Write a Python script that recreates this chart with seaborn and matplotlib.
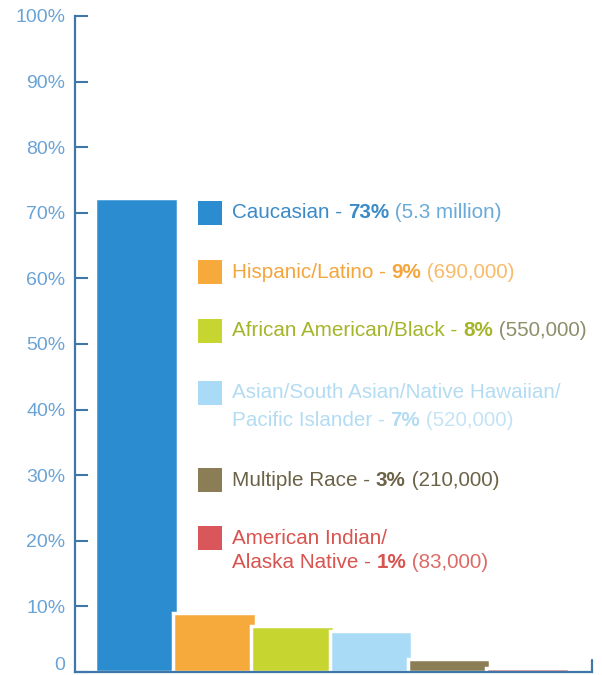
import matplotlib
matplotlib.use("Agg")
import matplotlib.pyplot as plt
import matplotlib.transforms as mtransforms
import seaborn as sns
import pandas as pd
from matplotlib.patches import Rectangle

# ---- data ----
categories = ["Caucasian", "Hispanic/Latino", "African American/Black",
              "Asian/South Asian/Native Hawaiian/Pacific Islander",
              "Multiple Race", "American Indian/Alaska Native"]
bar_values = [72.3, 9.0, 7.0, 6.3, 2.0, 0.6]
legend_names = ["Caucasian - ", "Hispanic/Latino - ", "African American/Black - ",
                "Asian/South Asian/Native Hawaiian/\nPacific Islander - ",
                "Multiple Race - ", "American Indian/\nAlaska Native - "]
legend_pcts = ["73%", "9%", "8%", "7%", "3%", "1%"]
legend_counts = [" (5.3 million)", " (690,000)", " (550,000)", " (520,000)",
                 " (210,000)", " (83,000)"]
ytick_vals = [0, 10, 20, 30, 40, 50, 60, 70, 80, 90, 100]
ytick_labels = ["0", "10%", "20%", "30%", "40%", "50%", "60%", "70%", "80%", "90%", "100%"]

bar_colors = ["#2b8dd0", "#f7aa3c", "#c6d530", "#a9dbf6", "#8b7d56", "#d9565b"]
text_colors = ["#3a8bc8", "#f5a53c", "#a5b52a", "#b3dcf3", "#6b6247", "#d9534f"]
count_colors = ["#6aaad8", "#f7bb6a", "#8d8f6a", "#c4e3f5", "#6b6247", "#dc6b66"]
axis_color = "#3f78a8"
tick_label_color = "#6aa3d5"

df = pd.DataFrame({"cat": categories, "val": bar_values})

sns.set_theme(style="white")
plt.rcParams["font.family"] = ["Liberation Sans", "DejaVu Sans"]

fig = plt.figure(figsize=(6.02, 6.75), dpi=100)
ax = fig.add_axes([75/602, 3/675, (592-75)/602, (672-16)/675])

sns.barplot(data=df, x="cat", y="val", hue="cat", palette=bar_colors,
            order=categories, hue_order=categories, legend=False,
            width=1.06, edgecolor="white", linewidth=2.5, saturation=1, ax=ax)

ax.set_xlim(-0.79, 5.83)
ax.set_ylim(0, 100)
ax.set_xlabel("")
ax.set_ylabel("")
ax.set_xticks([])
ax.set_yticks(ytick_vals)
ax.set_yticklabels(ytick_labels)
ax.tick_params(axis="y", direction="in", length=9, width=1.5, color=axis_color,
               labelcolor=tick_label_color, labelsize=14, pad=7, left=True)
zero_lbl = ax.get_yticklabels()[0]
zero_lbl.set_va("bottom")
zero_lbl.set_transform(zero_lbl.get_transform() +
                       mtransforms.ScaledTranslation(0, -2/100, fig.dpi_scale_trans))
for s in ["top", "right"]:
    ax.spines[s].set_visible(False)
for s in ["left", "bottom"]:
    ax.spines[s].set_color(axis_color)
    ax.spines[s].set_linewidth(1.6)
ax.axvline(5.83, ymin=0, ymax=0.018, color=axis_color, lw=1.6, clip_on=False)

# ---- legend ----
row_y = [213, 272, 331, 393, 480, 538]  # pixel centers of squares (from top)
line_gap = [0, 0, 0, 27, 0, 25]
sq = 24
for i in range(len(categories)):
    yc = row_y[i]
    fig.patches.append(Rectangle((198/602, 1 - (yc + sq/2)/675), sq/602, sq/675,
                                 transform=fig.transFigure, facecolor=bar_colors[i],
                                 edgecolor="none"))
    name = legend_names[i]
    lines = name.split("\n")
    fs = 14.9
    if len(lines) == 1:
        t1 = fig.text(232/602, 1 - yc/675, name, fontsize=fs, color=text_colors[i],
                      va="center", ha="left")
    else:
        fig.text(232/602, 1 - yc/675, lines[0], fontsize=fs,
                 color=text_colors[i], va="center", ha="left")
        t1 = fig.text(232/602, 1 - (yc + line_gap[i])/675, lines[1], fontsize=fs,
                      color=text_colors[i], va="center", ha="left")
    t2 = ax.annotate(legend_pcts[i], xy=(1, 0), xycoords=t1, va="bottom", ha="left",
                     fontsize=fs, fontweight="bold", color=text_colors[i])
    ax.annotate(legend_counts[i], xy=(1, 0), xycoords=t2, va="bottom", ha="left",
                fontsize=fs, color=count_colors[i])

fig.savefig("out.png", dpi=100, facecolor="white")
